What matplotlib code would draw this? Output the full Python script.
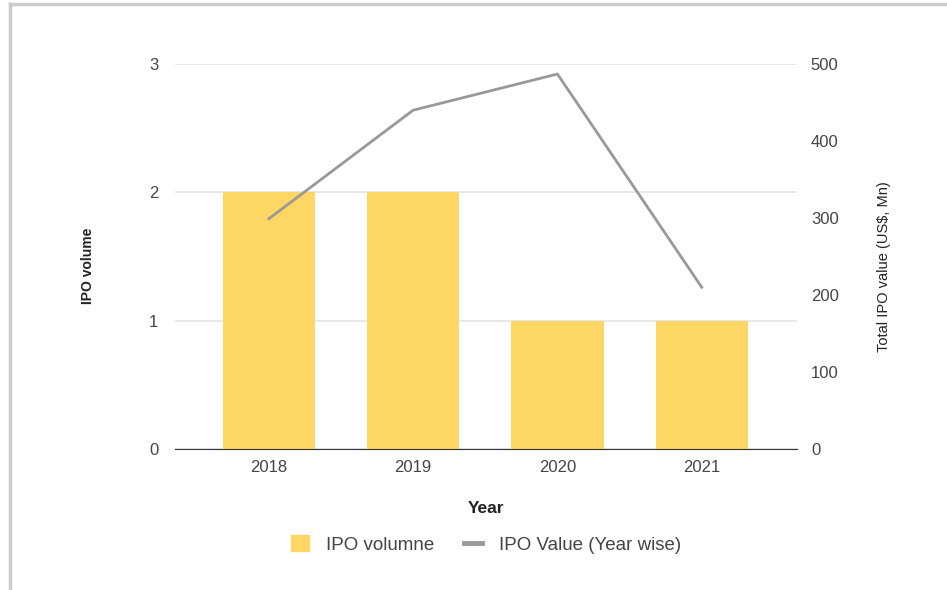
import matplotlib.pyplot as plt
from matplotlib.lines import Line2D
from matplotlib.patches import Patch

plt.rcParams["font.family"] = ["Liberation Sans", "DejaVu Sans"]

years = ["2018", "2019", "2020", "2021"]
ipo_volume = [2, 2, 1, 1]
ipo_value = [299, 440, 487, 210]

bar_color = "#fdd663"
line_color = "#999999"
text_color = "#444444"

fig = plt.figure(figsize=(9.47, 5.9), dpi=100)
ax = fig.add_axes([0.1848, 0.239, 0.6568, 0.6525])
ax2 = ax.twinx()

x = range(len(years))
ax.bar(x, ipo_volume, width=0.64, color=bar_color, zorder=2)
ax2.plot(x, ipo_value, color=line_color, linewidth=2, zorder=3)

ax.set_xlim(-0.65, 3.66)
ax.set_ylim(0, 3)
ax.set_yticks([0, 1, 2, 3])
ax2.set_ylim(0, 500)
ax2.set_yticks([0, 100, 200, 300, 400, 500])
ax.set_xticks(list(x))
ax.set_xticklabels(years)

ax.grid(axis="y", color="#e3e3e3", linewidth=1.2, zorder=0)
ax.set_axisbelow(True)
for a in (ax, ax2):
    for s in a.spines.values():
        s.set_visible(False)
    a.tick_params(length=0, colors=text_color, labelsize=12)
ax.spines["bottom"].set_visible(True)
ax.spines["bottom"].set_color("#333333")
ax.spines["bottom"].set_zorder(4)
ax.tick_params(axis="y", pad=12)
ax.tick_params(axis="x", pad=8)
ax2.tick_params(axis="y", pad=10)

ax.set_xlabel("Year", fontsize=12.5, fontweight="bold", color="#222222", labelpad=19)
ax.set_ylabel("IPO volume", fontsize=10, fontweight="bold", color="#222222")
ax.yaxis.set_label_coords(-0.129, 0.475)
ax2.set_ylabel("Total IPO value (US$, Mn)", fontsize=10.5, color="#222222")
ax2.yaxis.set_label_coords(1.1286, 0.475)

handles = [Patch(color=bar_color),
           Line2D([0], [0], color=line_color, linewidth=3.5)]
fig.legend(handles, ["IPO volumne", "IPO Value (Year wise)"],
           loc="center", bbox_to_anchor=(0.513, 0.077), ncol=2, frameon=False,
           fontsize=13.5, labelcolor=text_color, handlelength=0.96,
           handleheight=0.9, columnspacing=1.6, handletextpad=0.9)

# thin frame on the top and left edges
fig.add_artist(Line2D([0.0106, 1.0], [0.994, 0.994], color="#cccccc", linewidth=2.5))
fig.add_artist(Line2D([0.0106, 0.0106], [0.0, 0.994], color="#cccccc", linewidth=2.5))

fig.savefig("out.png", dpi=100, facecolor="white")
